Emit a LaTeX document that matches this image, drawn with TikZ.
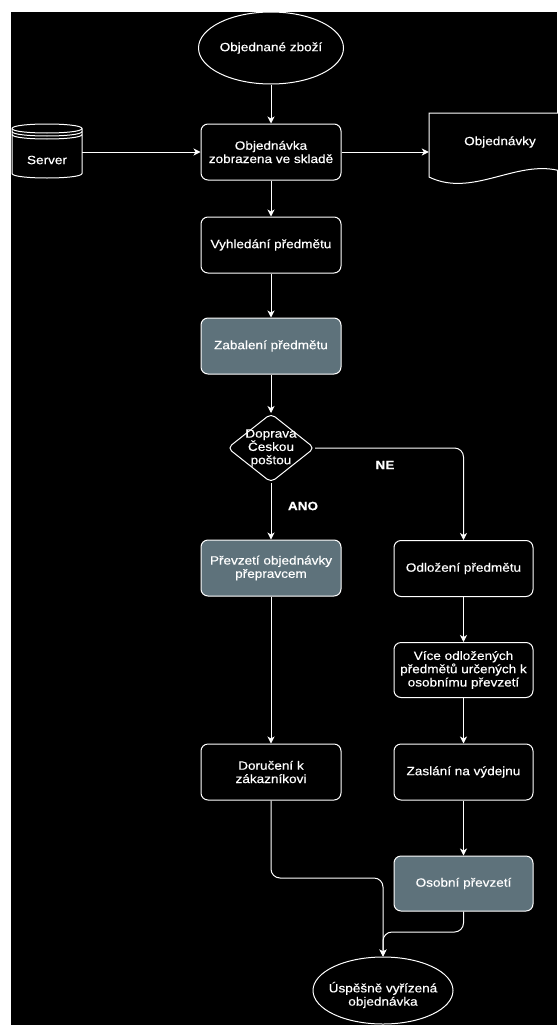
\documentclass[tikz,border=0pt]{standalone}
\usepackage{fontspec}
\setmainfont{Liberation Sans}
\newfontfamily\dfont[FakeStretch=1.13,FakeBold=0.4]{Liberation Sans}
\usetikzlibrary{shapes.geometric,arrows.meta,calc}
\definecolor{fillc}{RGB}{94,114,123}
\definecolor{ln}{RGB}{255,255,255}
\begin{document}
\begin{tikzpicture}[x=1pt,y=-1pt,
  every node/.style={font=\dfont\fontsize{12}{13.3}\selectfont, text=white},
  box/.style={draw=ln, line width=1pt, rounded corners=7pt, minimum width=140pt, minimum height=56pt, align=center, inner sep=0pt},
  filledbox/.style={box, fill=fillc},
  oval/.style={ellipse, draw=ln, line width=1pt, minimum width=140pt, inner sep=0pt, align=center},
  arr/.style={draw=ln, line width=1pt, -{Stealth[length=7pt,width=7pt,inset=2pt]}},
  lbl/.style={font=\dfont\bfseries\fontsize{12}{13.3}\selectfont, text=white}
  ]
\useasboundingbox (0,0) rectangle (557,1025);
\fill[white] (0,0) rectangle (557,1025);
\fill[black] (11,12) rectangle (557,1025);

% top ellipse
\node[oval, minimum height=72pt] (start) at (271,48) {Objednané zboží};

% server cylinder
\node[minimum width=70pt, minimum height=56pt, inner sep=0pt] (server) at (47,152) {};
\draw[ln, line width=1pt, fill=black]
  (12,128.5) -- (12,173.5) .. controls (12,179.5) and (82,179.5) .. (82,173.5)
  -- (82,128.5) .. controls (82,122.5) and (12,122.5) .. (12,128.5) -- cycle;
\draw[ln, line width=1pt] (12,128.5) .. controls (12,134.5) and (82,134.5) .. (82,128.5);
\draw[ln, line width=1pt] (12,131.5) .. controls (12,137.5) and (82,137.5) .. (82,131.5);
\draw[ln, line width=1pt] (12,134.5) .. controls (12,140.5) and (82,140.5) .. (82,134.5);
\node (servertxt) at (47,160) {Server};

% document
\node[minimum width=142pt, minimum height=70pt, inner sep=0pt] (doc) at (500,148) {};
\draw[ln, line width=1pt, fill=black]
  (429,113) -- (429,177) .. controls (476,200) and (524,152) .. (571,175) -- (571,113) -- cycle;
\node (doctxt) at (500,142) {Objednávky};

% main column
\node[box] (b1) at (271,152) {Objednávka\\zobrazena ve skladě};
\node[box] (b2) at (271,245) {Vyhledání předmětu};
\node[filledbox] (b3) at (271,346) {Zabalení předmětu};
\node[diamond, draw=ln, line width=1pt, rounded corners=5pt, minimum width=87pt, minimum height=69pt, inner sep=0pt] (d) at (271,448) {};
\node[align=center] (dt) at (271,448) {Doprava\\Českou\\poštou};
\node[filledbox] (b4) at (271,568) {Převzetí objednávky\\přepravcem};
\node[box] (b5) at (271,772) {Doručení k\\zákazníkovi};

% right column
\node[box, minimum width=139pt] (r1) at (463.5,568.5) {Odložení předmětu};
\node[box, minimum width=139pt, minimum height=55pt] (r2) at (463.5,670) {Více odložených\\předmětů určených k\\osobnímu převzetí};
\node[box, minimum width=139pt] (r3) at (463.5,772) {Zaslání na výdejnu};
\node[filledbox, minimum width=139pt, minimum height=55pt] (r4) at (463.5,883.5) {Osobní převzetí};

% end ellipse
\node[oval, minimum height=67pt] (end) at (383,990.5) {};
\node[align=center] (endt) at (383,995) {Úspěšně vyřízená\\objednávka};

% labels
\node[lbl] (ne) at (385,465) {NE};
\node[lbl] (ano) at (303,506) {ANO};

% connectors
\draw[arr] (start.south) -- (b1.north);
\draw[arr] (server.east) -- (b1.west);
\draw[arr] (b1.east) -- (b1.east -| doc.west);
\draw[arr] (b1.south) -- (b2.north);
\draw[arr] (b2.south) -- (b3.north);
\draw[arr] (b3.south) -- (d.north);
\draw[arr] (d.south) -- (b4.north);
\draw[arr, rounded corners=9pt] (d.east) -| (r1.north);
\draw[arr] (r1.south) -- (r2.north);
\draw[arr] (r2.south) -- (r3.north);
\draw[arr] (r3.south) -- (r4.north);
\draw[arr] (b4.south) -- (b5.north);
\coordinate (j1) at (383,878);
\coordinate (j2) at (383,932);
\draw[arr, rounded corners=9pt] (b5.south) |- (j1) -- (end.north);
\draw[arr, rounded corners=9pt] (r4.south) |- (j2) -- (end.north);
\end{tikzpicture}
\end{document}
